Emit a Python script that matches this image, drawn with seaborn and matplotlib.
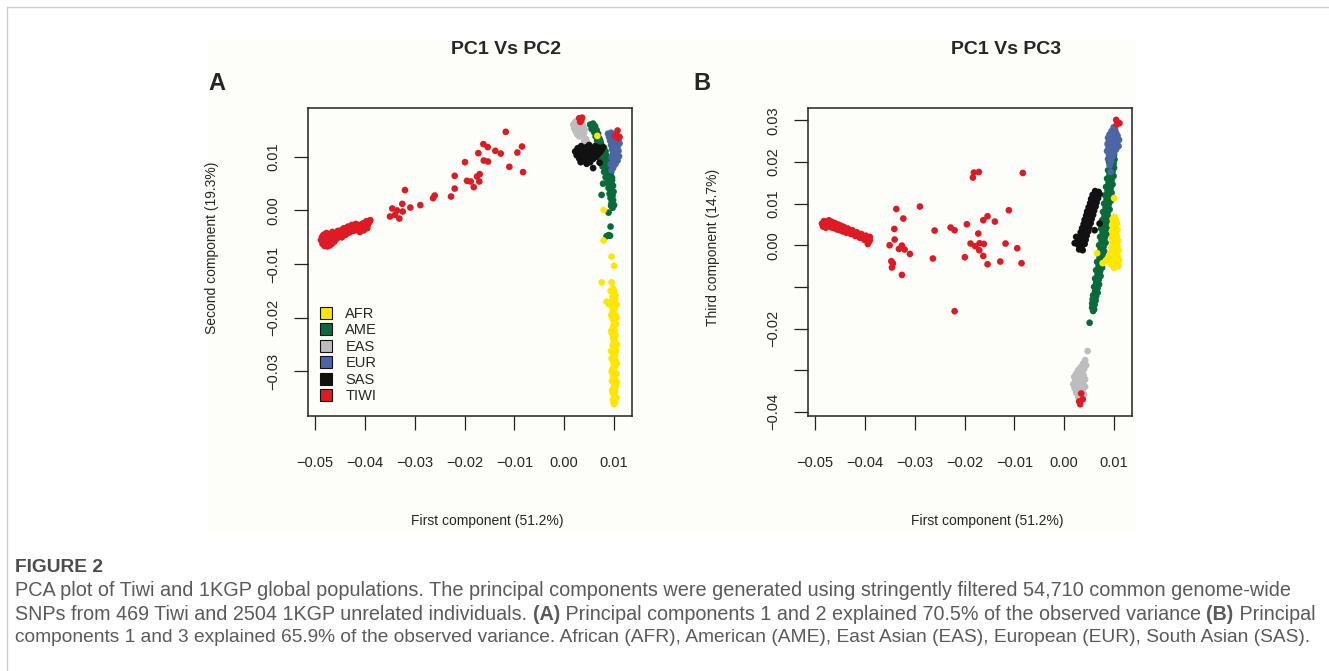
import matplotlib
matplotlib.use("Agg")
import matplotlib.pyplot as plt
import pandas as pd
import seaborn as sns
from matplotlib.lines import Line2D
from matplotlib.patches import Rectangle

# ---------------- data ----------------
POPS = ["AFR", "AME", "EAS", "EUR", "SAS", "TIWI"]
COLORS = {"AFR": "#ffe600", "AME": "#0b6a3b", "EAS": "#bdbdbd",
          "EUR": "#4c65a5", "SAS": "#111111", "TIWI": "#de1b24"}
DRAW_ORDER = ["AME", "EAS", "EUR", "SAS", "AFR", "TIWI"]

X_TICKS = [-0.05, -0.04, -0.03, -0.02, -0.01, 0.00, 0.01]
X_TICK_LABELS = ["\u22120.05", "\u22120.04", "\u22120.03", "\u22120.02", "\u22120.01", "0.00", "0.01"]
A_Y_TICKS = [-0.03, -0.02, -0.01, 0.00, 0.01]
A_Y_TICK_LABELS = ["\u22120.03", "\u22120.02", "\u22120.01", "0.00", "0.01"]
B_Y_TICKS = [-0.04, -0.03, -0.02, -0.01, 0.00, 0.01, 0.02, 0.03]
B_Y_TICK_LABELS = ["\u22120.04", "", "\u22120.02", "", "0.00", "0.01", "0.02", "0.03"]

# Panel A : PC1 vs PC2
A_TIWI = [(-0.01173, 0.01466), (-0.01622, 0.01237), (-0.01534, 0.01181), (-0.00846, 0.01192),
          (-0.01723, 0.01069), (-0.01382, 0.01112), (-0.01273, 0.01061), (-0.00940, 0.01080),
          (-0.01990, 0.00901), (-0.01614, 0.00931), (-0.01528, 0.00912), (-0.01101, 0.00814),
          (-0.00826, 0.00715), (-0.02197, 0.00646), (-0.01695, 0.00678), (-0.01749, 0.00633),
          (-0.01950, 0.00553), (-0.01875, 0.00540), (-0.01703, 0.00540), (-0.01815, 0.00435),
          (-0.02197, 0.00409), (-0.03194, 0.00380), (-0.02598, 0.00279), (-0.02632, 0.00230),
          (-0.02271, 0.00260), (-0.03248, 0.00124), (-0.02887, 0.00100), (-0.03087, 0.00055),
          (-0.03449, 0.00037), (-0.03354, 0.00000), (-0.03240, -0.00019), (-0.03495, -0.00112),
          (-0.03308, -0.00150), (-0.03395, -0.00081),
          (-0.0486, -0.0050), (-0.0484, -0.0056), (-0.0482, -0.0045), (-0.0480, -0.0060),
          (-0.0479, -0.0052), (-0.0477, -0.0042), (-0.0476, -0.0057), (-0.0474, -0.0048),
          (-0.0473, -0.0062), (-0.0471, -0.0053), (-0.0470, -0.0044), (-0.0468, -0.0058),
          (-0.0467, -0.0049), (-0.0465, -0.0040), (-0.0464, -0.0055), (-0.0462, -0.0046),
          (-0.0460, -0.0052), (-0.0458, -0.0042), (-0.0456, -0.0048), (-0.0454, -0.0038),
          (-0.0452, -0.0045), (-0.0450, -0.0040), (-0.0448, -0.0047), (-0.0446, -0.0036),
          (-0.0444, -0.0042), (-0.0442, -0.0033), (-0.0440, -0.0039), (-0.0438, -0.0045),
          (-0.0436, -0.0035), (-0.0434, -0.0030), (-0.0432, -0.0037), (-0.0430, -0.0032),
          (-0.0428, -0.0039), (-0.0426, -0.0027), (-0.0424, -0.0034), (-0.0420, -0.0030),
          (-0.0416, -0.0036), (-0.0412, -0.0027), (-0.0408, -0.0032), (-0.0404, -0.0024),
          (-0.0400, -0.0030), (-0.0397, -0.0020), (-0.0394, -0.0027), (-0.0391, -0.0022),
          (-0.0395, -0.0033), (-0.0402, -0.0037), (-0.0410, -0.0040), (-0.0418, -0.0025),
          (-0.0446, -0.0050), (-0.0478, -0.0065), (-0.0470, -0.0065), (-0.0484, -0.0047),
          (-0.0488, -0.0055), (-0.0485, -0.0062), (-0.0481, -0.0066), (-0.0475, -0.0067),
          (-0.0466, -0.0062), (-0.0461, -0.0058), (-0.0457, -0.0053), (-0.0453, -0.0050),
          (-0.0449, -0.0043), (-0.0443, -0.0046), (-0.0437, -0.0041), (-0.0431, -0.0041),
          (-0.0427, -0.0035), (-0.0422, -0.0038), (-0.0414, -0.0032), (-0.0406, -0.0028),
          (-0.0398, -0.0026), (-0.0389, -0.0018),
          (0.0030, 0.0172), (0.0034, 0.0168), (0.0036, 0.0173), (0.0032, 0.0165),
          (0.0107, 0.0149), (0.0109, 0.0135), (0.0102, 0.0139), (0.0111, 0.0137)]
A_AFR = [(0.00665, 0.0139), (0.0079, 0.0001), (0.0079, -0.0056), (0.0095, -0.0086),
         (0.0100, -0.0103), (0.0075, -0.0134), (0.0095, -0.0134), (0.0093, -0.0150),
         (0.0085, -0.0170), (0.0090, -0.0175),
         (0.0098, -0.0145), (0.0100, -0.0152), (0.0097, -0.0160), (0.0102, -0.0165),
         (0.0099, -0.0172), (0.0095, -0.0178), (0.0101, -0.0183), (0.0098, -0.0190),
         (0.0103, -0.0195), (0.0097, -0.0201), (0.0100, -0.0207), (0.0104, -0.0212),
         (0.0098, -0.0218), (0.0101, -0.0224), (0.0096, -0.0229), (0.0103, -0.0234),
         (0.0099, -0.0240), (0.0102, -0.0246), (0.0097, -0.0251), (0.0100, -0.0256),
         (0.0104, -0.0261), (0.0098, -0.0266), (0.0101, -0.0271), (0.0095, -0.0276),
         (0.0103, -0.0280), (0.0099, -0.0285), (0.0102, -0.0290), (0.0097, -0.0295),
         (0.0100, -0.0300), (0.0105, -0.0304), (0.0098, -0.0309), (0.0102, -0.0313),
         (0.0096, -0.0318), (0.0100, -0.0322), (0.0104, -0.0327), (0.0099, -0.0331),
         (0.0102, -0.0336), (0.0097, -0.0340), (0.0101, -0.0345), (0.0105, -0.0349),
         (0.0098, -0.0353), (0.0102, -0.0357), (0.0100, -0.0361), (0.0096, -0.0335),
         (0.0106, -0.0320), (0.0095, -0.0300), (0.0106, -0.0285), (0.0094, -0.0262),
         (0.0106, -0.0250), (0.0094, -0.0225), (0.0105, -0.0200), (0.0094, -0.0195),
         (0.0105, -0.0175),
         (0.0099, -0.0148), (0.0103, -0.0158), (0.0096, -0.0168), (0.0101, -0.0176),
         (0.0097, -0.0186), (0.0102, -0.0203), (0.0099, -0.0214), (0.0097, -0.0221),
         (0.0102, -0.0231), (0.0098, -0.0237), (0.0101, -0.0243), (0.0098, -0.0259),
         (0.0102, -0.0268), (0.0098, -0.0278), (0.0101, -0.0288), (0.0099, -0.0297),
         (0.0101, -0.0307), (0.0099, -0.0316), (0.0102, -0.0325), (0.0100, -0.0338),
         (0.0100, -0.0351), (0.0099, -0.0358)]
A_AME = [(0.0052, 0.0160), (0.0058, 0.0162), (0.0062, 0.0157), (0.0055, 0.0152),
         (0.0065, 0.0150), (0.0060, 0.0146), (0.0068, 0.0143), (0.0063, 0.0138),
         (0.0070, 0.0135), (0.0066, 0.0130), (0.0073, 0.0127), (0.0069, 0.0122),
         (0.0076, 0.0120), (0.0072, 0.0115), (0.0079, 0.0112), (0.0075, 0.0108),
         (0.0082, 0.0105), (0.0070, 0.0100), (0.0078, 0.0098), (0.0085, 0.0095),
         (0.0073, 0.0092), (0.0081, 0.0089), (0.0088, 0.0086), (0.0077, 0.0082),
         (0.0084, 0.0079), (0.0091, 0.0076), (0.0080, 0.0072), (0.0087, 0.0069),
         (0.0093, 0.0066), (0.0083, 0.0062), (0.0090, 0.0059), (0.0096, 0.0056),
         (0.0086, 0.0052), (0.0093, 0.0049), (0.0098, 0.0046), (0.0089, 0.0042),
         (0.0095, 0.0039), (0.0099, 0.0035), (0.0091, 0.0031), (0.0097, 0.0028),
         (0.0093, 0.0023), (0.0098, 0.0019), (0.0095, 0.0014), (0.0100, 0.0010),
         (0.0097, 0.0005), (0.0088, 0.0092), (0.0068, 0.0108), (0.0078, 0.0050),
         (0.0075, 0.0029), (0.0089, -0.0004), (0.0093, -0.0030), (0.0092, -0.0047),
         (0.0085, -0.0048), (0.0089, -0.0046),
         (0.0057, 0.0156), (0.0061, 0.0151), (0.0064, 0.0144), (0.0067, 0.0139),
         (0.0072, 0.0131), (0.0074, 0.0123), (0.0080, 0.0117), (0.0083, 0.0110),
         (0.0086, 0.0101), (0.0092, 0.0096), (0.0083, 0.0087), (0.0090, 0.0081),
         (0.0086, 0.0075), (0.0094, 0.0071), (0.0089, 0.0064), (0.0096, 0.0061),
         (0.0092, 0.0054), (0.0095, 0.0044), (0.0093, 0.0035), (0.0096, 0.0024),
         (0.0094, 0.0009)]
A_EAS = [(0.0018, 0.0160), (0.0022, 0.0165), (0.0027, 0.0168), (0.0020, 0.0153),
         (0.0025, 0.0157), (0.0030, 0.0161), (0.0035, 0.0164), (0.0023, 0.0147),
         (0.0028, 0.0150), (0.0033, 0.0154), (0.0038, 0.0157), (0.0026, 0.0142),
         (0.0031, 0.0145), (0.0036, 0.0148), (0.0041, 0.0151), (0.0030, 0.0138),
         (0.0035, 0.0141), (0.0040, 0.0144), (0.0044, 0.0133), (0.0040, 0.0130),
         (0.0046, 0.0127)]
A_EUR = [(0.0088, 0.0143), (0.0094, 0.0145), (0.0100, 0.0142), (0.0106, 0.0140),
         (0.0090, 0.0137), (0.0097, 0.0136), (0.0103, 0.0134), (0.0109, 0.0133),
         (0.0092, 0.0130), (0.0099, 0.0128), (0.0105, 0.0127), (0.0111, 0.0125),
         (0.0094, 0.0122), (0.0101, 0.0120), (0.0107, 0.0119), (0.0096, 0.0114),
         (0.0103, 0.0112), (0.0109, 0.0111), (0.0098, 0.0106), (0.0104, 0.0104),
         (0.0110, 0.0101), (0.0095, 0.0099), (0.0101, 0.0096), (0.0107, 0.0093),
         (0.0097, 0.0090), (0.0103, 0.0087), (0.0099, 0.0083), (0.0093, 0.0086),
         (0.0095, 0.0075), (0.0098, 0.0079)]
A_SAS = [(0.0022, 0.0110), (0.0025, 0.0103), (0.0027, 0.0116), (0.0030, 0.0097),
         (0.0031, 0.0108), (0.0034, 0.0120), (0.0036, 0.0101), (0.0038, 0.0113),
         (0.0040, 0.0092), (0.0042, 0.0106), (0.0044, 0.0118), (0.0046, 0.0098),
         (0.0048, 0.0110), (0.0050, 0.0122), (0.0052, 0.0090), (0.0054, 0.0103),
         (0.0056, 0.0115), (0.0058, 0.0096), (0.0060, 0.0108), (0.0062, 0.0120),
         (0.0064, 0.0100), (0.0066, 0.0112), (0.0068, 0.0105), (0.0070, 0.0117),
         (0.0072, 0.0109), (0.0075, 0.0113), (0.0078, 0.0118), (0.0045, 0.0087),
         (0.0033, 0.0090), (0.0058, 0.0079), (0.0071, 0.0089)]

# Panel B : PC1 vs PC3
B_TIWI = [(-0.03368, 0.00871), (-0.02895, 0.00929), (-0.03228, 0.00641), (-0.03408, 0.00391),
          (-0.02600, 0.00353), (-0.02279, 0.00425), (-0.02199, 0.00360), (-0.03402, 0.00137),
          (-0.03502, 0.00000), (-0.03256, -0.00008), (-0.03316, -0.00089), (-0.03202, -0.00103),
          (-0.03095, -0.00209), (-0.03468, -0.00384), (-0.03436, -0.00439), (-0.03456, -0.00535),
          (-0.03256, -0.00712), (-0.02634, -0.00319), (-0.02199, -0.01584), (-0.01832, 0.01625),
          (-0.01812, 0.01745), (-0.01712, 0.01759), (-0.00830, 0.01735), (-0.01953, 0.00504),
          (-0.01624, 0.00600), (-0.01538, 0.00696), (-0.01391, 0.00569), (-0.01111, 0.00840),
          (-0.01724, 0.00281), (-0.01879, 0.00041), (-0.01784, -0.00024), (-0.01698, 0.00048),
          (-0.01612, 0.00032), (-0.01704, -0.00120), (-0.01993, -0.00288), (-0.01624, -0.00257),
          (-0.01538, -0.00456), (-0.01283, -0.00391), (-0.01177, 0.00041), (-0.00942, -0.00072),
          (-0.00856, -0.00432),
          (-0.0486, 0.0052), (-0.0484, 0.0045), (-0.0482, 0.0058), (-0.0480, 0.0049),
          (-0.0478, 0.0042), (-0.0476, 0.0055), (-0.0474, 0.0047), (-0.0472, 0.0060),
          (-0.0470, 0.0051), (-0.0468, 0.0043), (-0.0466, 0.0056), (-0.0464, 0.0048),
          (-0.0462, 0.0041), (-0.0460, 0.0053), (-0.0458, 0.0045), (-0.0456, 0.0038),
          (-0.0454, 0.0050), (-0.0452, 0.0043), (-0.0450, 0.0036), (-0.0448, 0.0047),
          (-0.0446, 0.0040), (-0.0444, 0.0033), (-0.0442, 0.0044), (-0.0440, 0.0037),
          (-0.0437, 0.0030), (-0.0434, 0.0040), (-0.0431, 0.0033), (-0.0428, 0.0027),
          (-0.0425, 0.0036), (-0.0422, 0.0029), (-0.0419, 0.0022), (-0.0416, 0.0031),
          (-0.0413, 0.0024), (-0.0410, 0.0018), (-0.0407, 0.0027), (-0.0404, 0.0020),
          (-0.0401, 0.0013), (-0.0398, 0.0023), (-0.0395, 0.0016), (-0.0392, 0.0008),
          (-0.0390, 0.0020), (-0.0394, 0.0003), (-0.0390, 0.0012),
          (0.01043, 0.0301), (0.01109, 0.0293), (0.01054, 0.0290),
          (0.00341, -0.03559), (0.00373, -0.0370), (0.00321, -0.03816), (0.0030, -0.0375)]
B_AFR = [(0.0100, 0.0113), (0.0101, 0.0068), (0.0097, 0.0063), (0.0104, 0.0060),
         (0.0099, 0.0055), (0.0106, 0.0052), (0.0096, 0.0048), (0.0103, 0.0045),
         (0.0099, 0.0040), (0.0107, 0.0037), (0.0096, 0.0033), (0.0103, 0.0030),
         (0.0098, 0.0025), (0.0106, 0.0022), (0.0095, 0.0018), (0.0102, 0.0015),
         (0.0108, 0.0011), (0.0097, 0.0008), (0.0104, 0.0004), (0.0099, 0.0000),
         (0.0107, -0.0003), (0.0095, -0.0006), (0.0102, -0.0009), (0.0109, -0.0012),
         (0.0097, -0.0015), (0.0104, -0.0018), (0.0092, -0.0021), (0.0100, -0.0024),
         (0.0108, -0.0027), (0.0088, -0.0030), (0.0095, -0.0031), (0.0103, -0.0033),
         (0.0110, -0.0036), (0.0084, -0.0036), (0.0091, -0.0038), (0.0099, -0.0040),
         (0.0106, -0.0042), (0.0080, -0.0042), (0.0094, -0.0046), (0.0102, -0.0048),
         (0.0109, -0.0050), (0.0100, -0.0054), (0.0066, -0.0019), (0.0077, -0.0043)]
B_AME = [(0.0097, 0.0222), (0.0100, 0.0217), (0.0092, 0.0210), (0.0101, 0.0206),
         (0.0090, 0.0200), (0.0099, 0.0196), (0.0093, 0.0190), (0.0100, 0.0186),
         (0.0088, 0.0180), (0.0097, 0.0177), (0.0091, 0.0170), (0.0099, 0.0166),
         (0.0086, 0.0160), (0.0095, 0.0156), (0.0089, 0.0150), (0.0097, 0.0146),
         (0.0084, 0.0140), (0.0093, 0.0137), (0.0087, 0.0130), (0.0095, 0.0126),
         (0.0082, 0.0120), (0.0091, 0.0117), (0.0085, 0.0110), (0.0093, 0.0106),
         (0.0080, 0.0100), (0.0089, 0.0097), (0.0083, 0.0090), (0.0091, 0.0086),
         (0.0078, 0.0080), (0.0087, 0.0077), (0.0081, 0.0070), (0.0089, 0.0066),
         (0.0076, 0.0060), (0.0085, 0.0057), (0.0079, 0.0050), (0.0087, 0.0046),
         (0.0074, 0.0040), (0.0083, 0.0037), (0.0077, 0.0030), (0.0085, 0.0026),
         (0.0072, 0.0020), (0.0081, 0.0017), (0.0075, 0.0010), (0.0083, 0.0006),
         (0.0070, 0.0000), (0.0079, -0.0003), (0.0073, -0.0010), (0.0080, -0.0014),
         (0.0068, -0.0020), (0.0077, -0.0023), (0.0071, -0.0030), (0.0078, -0.0034),
         (0.0066, -0.0040), (0.0074, -0.0043), (0.0069, -0.0050), (0.0076, -0.0054),
         (0.0064, -0.0060), (0.0072, -0.0063), (0.0067, -0.0070), (0.0073, -0.0074),
         (0.0062, -0.0080), (0.0069, -0.0083), (0.0064, -0.0090), (0.0070, -0.0094),
         (0.0060, -0.0100), (0.0067, -0.0103), (0.0062, -0.0110), (0.0067, -0.0114),
         (0.0058, -0.0120), (0.0064, -0.0123), (0.0057, -0.0130), (0.0063, -0.0133),
         (0.0056, -0.0140), (0.0061, -0.0143), (0.0056, -0.0150), (0.0060, -0.0154),
         (0.0058, -0.0158), (0.0051, -0.0186)]
B_EAS = [(0.0047, -0.0254), (0.0042, -0.0276), (0.0038, -0.0284), (0.0044, -0.0288),
         (0.0033, -0.0293), (0.0040, -0.0297), (0.0028, -0.0300), (0.0036, -0.0303),
         (0.0024, -0.0308), (0.0031, -0.0310), (0.0039, -0.0312), (0.0020, -0.0316),
         (0.0027, -0.0318), (0.0035, -0.0320), (0.0042, -0.0322), (0.0022, -0.0326),
         (0.0030, -0.0328), (0.0038, -0.0330), (0.0018, -0.0334), (0.0026, -0.0336),
         (0.0034, -0.0338), (0.0042, -0.0340), (0.0021, -0.0344), (0.0029, -0.0346),
         (0.0037, -0.0348), (0.0024, -0.0354), (0.0032, -0.0356), (0.0040, -0.0358),
         (0.0028, -0.0364), (0.0036, -0.0366)]
B_EUR = [(0.0099, 0.0283), (0.0102, 0.0278), (0.0095, 0.0274), (0.0104, 0.0270),
         (0.0091, 0.0266), (0.0099, 0.0265), (0.0107, 0.0263), (0.0088, 0.0258),
         (0.0096, 0.0257), (0.0104, 0.0256), (0.0110, 0.0253), (0.0090, 0.0250),
         (0.0098, 0.0249), (0.0106, 0.0247), (0.0087, 0.0243), (0.0094, 0.0242),
         (0.0102, 0.0240), (0.0109, 0.0238), (0.0089, 0.0234), (0.0097, 0.0232),
         (0.0104, 0.0230), (0.0086, 0.0226), (0.0093, 0.0224), (0.0100, 0.0222),
         (0.0090, 0.0216), (0.0097, 0.0213), (0.0088, 0.0207), (0.0094, 0.0200),
         (0.0091, 0.0192), (0.0093, 0.0176)]
B_SAS = [(0.0062, 0.0130), (0.0069, 0.0128), (0.0057, 0.0121), (0.0066, 0.0119),
         (0.0071, 0.0123), (0.0054, 0.0111), (0.0063, 0.0109), (0.0068, 0.0113),
         (0.0052, 0.0101), (0.0060, 0.0099), (0.0065, 0.0103), (0.0049, 0.0091),
         (0.0058, 0.0089), (0.0063, 0.0093), (0.0046, 0.0081), (0.0055, 0.0079),
         (0.0060, 0.0083), (0.0044, 0.0071), (0.0052, 0.0069), (0.0058, 0.0073),
         (0.0041, 0.0061), (0.0050, 0.0059), (0.0055, 0.0063), (0.0039, 0.0051),
         (0.0047, 0.0049), (0.0053, 0.0053), (0.0036, 0.0041), (0.0045, 0.0039),
         (0.0050, 0.0043), (0.0033, 0.0031), (0.0042, 0.0029), (0.0048, 0.0033),
         (0.0031, 0.0021), (0.0040, 0.0019), (0.0045, 0.0023), (0.0029, 0.0011),
         (0.0037, 0.0009), (0.0043, 0.0013), (0.0028, 0.0001), (0.0035, -0.0002),
         (0.0041, 0.0003), (0.0030, -0.0010), (0.0037, -0.0012), (0.0061, 0.0036),
         (0.0071, 0.0052), (0.0021, 0.0005), (0.0024, 0.0020)]

PANEL_A = {"AFR": A_AFR, "AME": A_AME, "EAS": A_EAS, "EUR": A_EUR, "SAS": A_SAS, "TIWI": A_TIWI}
PANEL_B = {"AFR": B_AFR, "AME": B_AME, "EAS": B_EAS, "EUR": B_EUR, "SAS": B_SAS, "TIWI": B_TIWI}

CAPTION_TITLE = "FIGURE 2"
CAPTION_LINES = [
    [("PCA plot of Tiwi and 1KGP global populations. The principal components were generated using "
      "stringently filtered 54,710 common genome-wide", "normal")],
    [("SNPs from 469 Tiwi and 2504 1KGP unrelated individuals. ", "normal"), ("(A)", "bold"),
     (" Principal components 1 and 2 explained 70.5% of the observed variance ", "normal"),
     ("(B)", "bold"), (" Principal", "normal")],
    [("components 1 and 3 explained 65.9% of the observed variance. African (AFR), American (AME), "
      "East Asian (EAS), European (EUR), South Asian (SAS).", "normal")],
]

# ---------------- figure ----------------
W, H = 1329, 671
sns.set_theme(style="white")
plt.rcParams["font.family"] = ["Liberation Sans", "DejaVu Sans"]
plt.rcParams["axes.unicode_minus"] = True

fig = plt.figure(figsize=(W / 100, H / 100), dpi=100, facecolor="white")


def fx(px):
    return px / W


def fy(py):
    return 1 - py / H


# page frame lines and panel background
fig.add_artist(Line2D([fx(7), 1.0], [fy(7), fy(7)], color="#cccccc", lw=1.0))
fig.add_artist(Line2D([fx(7), fx(7)], [fy(7), 0.0], color="#cccccc", lw=1.0))
CREAM = "#fdfdf9"
fig.add_artist(Rectangle((fx(207), fy(531)), fx(1137) - fx(207), fy(41) - fy(531),
                         facecolor=CREAM, edgecolor="none", zorder=0))


def make_frame(panel):
    rows = []
    for pop in DRAW_ORDER:
        for x, y in panel[pop]:
            rows.append((x, y, pop))
    return pd.DataFrame(rows, columns=["pc1", "pcy", "pop"])


def setup_axes(left_px, right_px, ylim, yticks, yticklabels):
    top_px, bottom_px = 108, 416
    ax = fig.add_axes([fx(left_px), fy(bottom_px), fx(right_px) - fx(left_px), fy(top_px) - fy(bottom_px)])
    ax.set_facecolor(CREAM)
    ax.set_xlim(-0.0514, 0.0136)
    ax.set_ylim(*ylim)
    for sp in ax.spines.values():
        sp.set_visible(True)
        sp.set_color("#222222")
        sp.set_linewidth(1.1)
    ax.set_xticks(X_TICKS)
    ax.set_xticklabels(X_TICK_LABELS, fontsize=10.5)
    ax.set_yticks(yticks)
    ax.set_yticklabels(yticklabels, fontsize=10.5, rotation=90, va="center")
    ax.tick_params(axis="x", direction="out", length=10, width=0.9, color="#222222", pad=19,
                   bottom=True, top=False)
    ax.tick_params(axis="y", direction="out", length=10, width=0.9, color="#222222", pad=10,
                   left=True, right=False)
    ax.grid(False)
    return ax


axA = setup_axes(308, 632, (-0.0383, 0.0191), A_Y_TICKS, A_Y_TICK_LABELS)
axB = setup_axes(808, 1132, (-0.0410, 0.03295), B_Y_TICKS, B_Y_TICK_LABELS)

for ax, panel in ((axA, PANEL_A), (axB, PANEL_B)):
    df = make_frame(panel)
    sns.scatterplot(data=df, x="pc1", y="pcy", hue="pop", palette=COLORS, s=23,
                    linewidth=0, legend=False, ax=ax)
    ax.set_xlabel("")
    ax.set_ylabel("")

# legend in panel A
handles = [Line2D([], [], marker="s", ls="", markersize=8, markerfacecolor=COLORS[p],
                  markeredgecolor="#111111", markeredgewidth=0.8) for p in POPS]
axA.legend(handles, POPS, loc="upper left", bbox_to_anchor=(0.034, 0.354), frameon=False,
           fontsize=10.5, borderpad=0, handlelength=1.0, handletextpad=0.8, labelspacing=0.17,
           borderaxespad=0)

# titles, panel letters, axis labels
fig.text(fx(506), fy(49), "PC1 Vs PC2", ha="center", va="center", fontsize=14, fontweight="bold")
fig.text(fx(1006), fy(49), "PC1 Vs PC3", ha="center", va="center", fontsize=14, fontweight="bold")
fig.text(fx(217), fy(83), "A", ha="center", va="center", fontsize=17, fontweight="bold")
fig.text(fx(702), fy(83), "B", ha="center", va="center", fontsize=17, fontweight="bold")
fig.text(fx(487), fy(521), "First component (51.2%)", ha="center", va="center", fontsize=10)
fig.text(fx(987), fy(521), "First component (51.2%)", ha="center", va="center", fontsize=10)
fig.text(fx(212), fy(248), "Second component (19.3%)", ha="center", va="center", fontsize=10, rotation=90)
fig.text(fx(713), fy(247), "Third component (14.7%)", ha="center", va="center", fontsize=10, rotation=90)

# caption
CAP_FAMILY = ["Liberation Sans", "DejaVu Sans"]
CAP_COLOR = "#5a5a5a"
renderer = fig.canvas.get_renderer()


def piece_width(text, weight, size):
    t = fig.text(0, 0, text, fontsize=size, fontweight=weight, family=CAP_FAMILY)
    w = t.get_window_extent(renderer).width
    t.remove()
    return w


def draw_line(pieces, x_px, y_px, size):
    x = x_px
    for text, weight in pieces:
        t = fig.text(fx(x), fy(y_px), text, fontsize=size, fontweight=weight, family=CAP_FAMILY,
                     color=CAP_COLOR, ha="left", va="center")
        x += t.get_window_extent(renderer).width


base = 12.0
tw = piece_width(CAPTION_TITLE, "bold", base)
title_size = base * 88 / tw
fig.text(fx(15), fy(567), CAPTION_TITLE, fontsize=title_size, fontweight="bold", family=CAP_FAMILY,
         color="#4d4d4d", ha="left", va="center")
LINE_ENDS = (1287, 1316, 1313)
for line, ypx, xend in zip(CAPTION_LINES, (591, 614, 637), LINE_ENDS):
    w = sum(piece_width(t, wt, base) for t, wt in line)
    draw_line(line, 15, ypx, base * (xend - 15) / w)

fig.savefig("out.png", dpi=100, facecolor="white")
